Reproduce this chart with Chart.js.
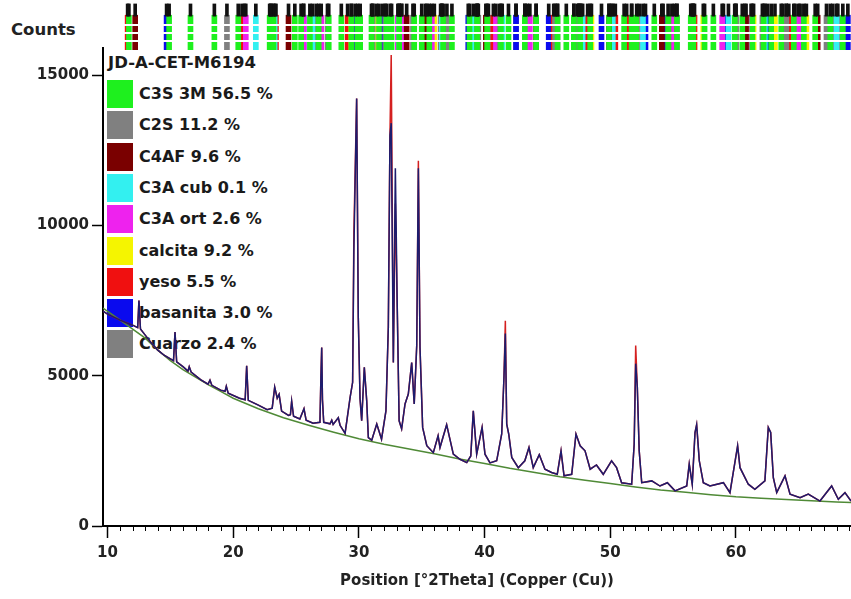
<!DOCTYPE html>
<html>
<head>
<meta charset="utf-8">
<script src="https://cdn.jsdelivr.net/npm/chart.js@4.4.1/dist/chart.umd.min.js"></script>
<style>
  body { margin: 0; background: #fff; }
  #wrap { position: relative; width: 851px; height: 599px; overflow: hidden; font-family: "DejaVu Sans", sans-serif; }
  #wrap canvas { position: absolute; left: 0; top: 0; z-index: 1; }
  #counts { position: absolute; left: 11px; top: 20px; font-size: 16.5px; font-weight: bold; color: #222; }
  #legend { position: absolute; left: 0; top: 0; z-index: 0; color: #1a1a1a; font-weight: bold; }
  #legend .ttl { position: absolute; left: 108px; top: 53px; font-size: 16.5px; white-space: nowrap; }
  #legend .sw { position: absolute; left: 107px; width: 26px; height: 28px; }
  #legend .lb { position: absolute; left: 139px; font-size: 16px; white-space: nowrap; line-height: 28px; }
</style>
</head>
<body>
<div id="wrap">
  <div id="counts">Counts</div>
  <div id="legend"></div>
  <canvas id="stripe" width="851" height="50"></canvas>
  <canvas id="main" width="851" height="599"></canvas>
</div>
<script>
// sample name + phases
const sampleName = 'JD-A-CET-M6194';
const phaseNames = ['C3S 3M', 'C2S', 'C4AF', 'C3A cub', 'C3A ort', 'calcita', 'yeso', 'basanita', 'Cuarzo'];
const phasePercent = [56.5, 11.2, 9.6, 0.1, 2.6, 9.2, 5.5, 3.0, 2.4];
const phaseColors = ['#1ef01e', '#808080', '#7a0000', '#33f0f0', '#ee22ee', '#f5f500', '#f01010', '#0a0aee', '#808080'];

// reference sticks (2Theta) per phase, top strip
const sticksC3S = [11.7, 14.9, 16.6, 18.5, 20.4, 22.9, 23.2, 24.9, 25.4, 26.1, 26.8, 27.6, 28.6, 29.4, 29.9, 30.1, 31.0, 31.6, 32.2, 32.6, 33.2, 34.4, 35.0, 35.6, 36.7, 37.4, 38.8, 39.4, 40.2, 41.3, 41.9, 43.2, 44.1, 45.8, 46.5, 47.1, 47.6, 48.4, 49.9, 51.1, 51.7, 52.1, 53.5, 54.6, 55.3, 56.4, 56.6, 57.5, 58.2, 59.9, 60.5, 61.3, 62.2, 62.8, 63.6, 64.6, 65.4, 66.3, 67.5, 68.5];
const sticksC2S = [19.5, 23.0, 27.5, 31.1, 32.1, 32.5, 34.3, 37.0, 39.4, 41.2, 45.6, 47.5, 51.7, 56.5, 60.0, 62.1, 64.0, 67.2];
const sticksC4AF = [12.2, 24.4, 33.8, 35.3, 40.1, 44.1, 47.4, 49.9, 54.1, 60.8, 63.7, 66.5];
const sticksC3Acub = [21.8, 23.3, 26.3, 33.2, 36.6, 39.1, 41.4, 47.8, 50.2, 52.6, 59.4, 62.3, 68.0];
const sticksC3Aort = [21.0, 25.6, 27.0, 33.1, 33.4, 35.8, 40.9, 43.6, 47.7, 52.3, 55.1, 58.9, 61.2, 65.0];
const sticksCalcita = [23.0, 29.4, 31.4, 36.0, 39.4, 43.2, 47.1, 47.5, 48.5, 56.6, 57.4, 60.7, 61.4, 63.1, 64.7, 65.6];
const sticksYeso = [11.6, 20.7, 23.4, 29.1, 31.1, 33.4, 35.4, 36.6, 40.7, 43.4, 45.5, 48.2, 50.4, 51.3, 56.7, 64.2];
const sticksBasanita = [14.7, 25.6, 29.7, 31.9, 38.7, 42.5, 45.1, 49.3, 52.8, 54.2, 59.0, 62.5, 65.1, 68.9];
const sticksCuarzo = [20.9, 26.6, 36.5, 39.5, 40.3, 42.5, 45.8, 50.1, 54.9, 55.3, 60.0, 64.0, 67.7, 68.1];
const phaseSticks = [sticksC3S, sticksC2S, sticksC4AF, sticksC3Acub, sticksC3Aort, sticksCalcita, sticksYeso, sticksBasanita, sticksCuarzo];

// observed scan (2Theta, counts)
const thetaObs = [9.64, 10.0, 10.5, 11.0, 11.5, 12.0, 12.4, 12.5, 12.62, 13.0, 13.5, 14.0, 14.5, 15.0, 15.25, 15.37, 15.5, 16.0, 16.4, 16.5, 16.65, 17.4, 18.0, 18.15, 18.3, 19.0, 19.35, 19.45, 19.6, 20.5, 20.95, 21.07, 21.2, 22.0, 22.7, 23.1, 23.3, 23.5, 23.65, 23.85, 24.4, 24.55, 24.65, 24.8, 25.3, 25.63, 25.8, 26.35, 26.9, 26.98, 27.04, 27.1, 27.2, 27.7, 27.84, 27.95, 28.36, 28.5, 28.9, 29.3, 29.5, 29.6, 29.82, 29.95, 30.09, 30.22, 30.43, 30.62, 30.75, 31.02, 31.42, 31.8, 32.15, 32.34, 32.47, 32.57, 32.74, 32.9, 33.05, 33.2, 33.4, 33.67, 33.93, 34.2, 34.4, 34.6, 34.73, 34.86, 35.07, 35.4, 35.92, 36.3, 36.45, 36.98, 37.51, 38.04, 38.58, 38.9, 39.1, 39.37, 39.8, 40.03, 40.43, 40.96, 41.36, 41.54, 41.65, 41.76, 41.92, 42.16, 42.68, 43.2, 43.53, 43.87, 44.35, 44.8, 45.33, 45.78, 46.08, 46.32, 46.93, 47.27, 47.6, 47.99, 48.4, 48.9, 49.44, 50.1, 50.5, 50.9, 51.7, 51.9, 52.02, 52.15, 52.3, 52.5, 53.3, 53.95, 54.54, 55.15, 56.08, 56.28, 56.52, 56.74, 56.87, 57.08, 57.4, 57.93, 59.0, 59.52, 60.13, 60.32, 60.98, 61.5, 62.3, 62.57, 62.76, 62.97, 63.24, 63.9, 64.3, 65.1, 65.75, 66.68, 67.61, 68.14, 68.67, 69.15];
const countsObs = [7150, 7050, 6950, 6850, 6760, 6680, 6600, 7500, 6550, 6350, 6080, 5850, 5680, 5560, 5500, 6450, 5460, 5300, 5150, 5300, 5120, 4870, 4720, 4850, 4680, 4520, 4480, 4650, 4420, 4250, 4200, 5330, 4180, 4020, 3870, 3920, 4620, 4250, 4380, 3820, 3680, 3700, 4150, 3650, 3560, 3900, 3520, 3420, 3450, 5000, 5940, 4200, 3450, 3400, 3520, 3380, 3600, 3350, 3080, 4280, 4780, 9170, 14220, 6940, 4230, 3500, 5280, 4170, 2940, 2850, 3390, 2890, 3830, 6610, 13000, 13400, 5440, 11900, 7280, 3500, 3230, 4060, 4390, 5440, 4060, 6000, 11900, 5940, 3280, 2670, 2440, 3000, 2610, 3370, 2390, 2220, 2110, 2330, 3830, 2390, 3280, 2390, 2100, 2170, 3060, 4940, 6400, 3390, 3060, 2280, 1940, 2170, 2610, 1940, 2370, 1890, 1780, 1720, 2500, 1670, 1720, 3060, 2670, 2500, 1890, 2030, 1720, 2170, 1940, 1440, 1390, 2720, 5400, 4610, 2500, 1440, 1500, 1330, 1440, 1170, 1330, 2060, 1390, 3110, 3370, 2170, 1440, 1330, 1440, 1110, 2670, 1940, 1390, 1220, 1500, 3280, 3110, 1610, 1110, 1670, 1060, 940, 1060, 830, 1330, 890, 1110, 830];

// calculated profile: where it parts from the observed one (peak tops)
const calcTops = [[29.6, 9800], [32.57, 15670], [32.9, 10730], [34.73, 12150], [41.65, 6830], [52.02, 6000]];

// background
const thetaBg = [9.64, 11, 12, 13, 14, 15, 16, 17, 18, 19, 20, 22, 24, 26, 28, 30, 32, 34, 36, 38, 40, 42, 44, 46, 48, 50, 52, 54, 56, 58, 60, 62, 64, 66, 68, 69.15];
const countsBg = [7250, 6850, 6550, 6250, 5850, 5500, 5200, 4950, 4700, 4480, 4250, 3900, 3600, 3350, 3120, 2900, 2720, 2560, 2400, 2230, 2080, 1920, 1780, 1640, 1520, 1410, 1300, 1200, 1120, 1040, 970, 920, 880, 840, 800, 780];

const xTicks = [10, 20, 30, 40, 50, 60];
const yTicks = [0, 5000, 10000, 15000];
const xMin = 9.64, xMax = 69.15, yMax = 15900;

// legend (drawn under the plot lines)
let legend = document.getElementById('legend');
let t = document.createElement('div');
t.className = 'ttl';
t.textContent = sampleName;
legend.appendChild(t);
phaseNames.forEach((name, i) => {
  let top = 80 + i * 31.3;
  let sw = document.createElement('div');
  sw.className = 'sw';
  sw.style.top = top + 'px';
  sw.style.background = phaseColors[i];
  legend.appendChild(sw);
  let lb = document.createElement('div');
  lb.className = 'lb';
  lb.style.top = top + 'px';
  lb.textContent = name + ' ' + phasePercent[i].toFixed(1) + ' %';
  legend.appendChild(lb);
});

let obsData = thetaObs.map((x, i) => ({ x: x, y: countsObs[i] }));
let calcData = obsData.map(p => {
  let hit = calcTops.find(c => c[0] === p.x);
  return { x: p.x, y: hit ? hit[1] : p.y };
});
let bgData = thetaBg.map((x, i) => ({ x: x, y: countsBg[i] }));

const axisFont = { family: 'DejaVu Sans', size: 15, weight: 'bold' };

const minorTicks = {
  id: 'minorTicks',
  afterDraw(chart) {
    let sx = chart.scales.x;
    let y0 = chart.chartArea.bottom;
    let ctx = chart.ctx;
    ctx.save();
    ctx.strokeStyle = '#000';
    ctx.lineWidth = 1;
    for (let v = 10; v <= 69; v++) {
      if (v % 10 === 0) continue;
      let px = Math.round(sx.getPixelForValue(v)) + 0.5;
      ctx.beginPath();
      ctx.moveTo(px, y0);
      ctx.lineTo(px, y0 + 5);
      ctx.stroke();
    }
    ctx.restore();
  }
};

new Chart(document.getElementById('main'), {
  type: 'line',
  data: {
    datasets: [
      { label: 'observed', data: obsData, borderColor: '#1c1c6e', borderWidth: 1.5 },
      { label: 'calculated', data: calcData, borderColor: '#d42020', borderWidth: 1.5 },
      { label: 'background', data: bgData, borderColor: '#4f8a36', borderWidth: 1.5 }
    ]
  },
  options: {
    responsive: false,
    animation: false,
    elements: { point: { radius: 0 }, line: { tension: 0 } },
    layout: { padding: { top: 48, left: 0, right: 0, bottom: 0 } },
    plugins: { legend: { display: false }, tooltip: { enabled: false } },
    scales: {
      x: {
        type: 'linear',
        min: xMin,
        max: xMax,
        afterBuildTicks: s => { s.ticks = xTicks.map(v => ({ value: v })); },
        afterFit: s => { s.height = 73; },
        grid: { drawOnChartArea: false, tickLength: 12, tickColor: '#000', tickWidth: 1.5 },
        border: { color: '#000', width: 2 },
        ticks: { font: axisFont, color: '#222', padding: 6, maxRotation: 0, callback: v => String(v) },
        title: { display: true, text: 'Position [°2Theta] (Copper (Cu))', font: axisFont, color: '#222', padding: { top: 0, bottom: 9 } }
      },
      y: {
        min: 0,
        max: yMax,
        afterBuildTicks: s => { s.ticks = yTicks.map(v => ({ value: v })); },
        afterFit: s => { s.width = 103; },
        grid: { drawOnChartArea: false, tickLength: 11, tickColor: '#000', tickWidth: 1.5 },
        border: { color: '#000', width: 2 },
        ticks: { font: axisFont, color: '#222', padding: 3, callback: v => String(v) }
      }
    }
  },
  plugins: [minorTicks]
});

// top strip with reference sticks
let stripeSets = phaseSticks.map((list, i) => ({
  data: list.map(x => ({ x: x, y: [0, 0.74] })),
  backgroundColor: phaseColors[i],
  barThickness: 5,
  grouped: false
}));
stripeSets.unshift({
  data: phaseSticks.flat().map(x => ({ x: x, y: [0.72, 0.98] })),
  backgroundColor: '#111',
  barThickness: 3,
  grouped: false
});

new Chart(document.getElementById('stripe'), {
  type: 'bar',
  data: { datasets: stripeSets },
  options: {
    responsive: false,
    animation: false,
    layout: { padding: { top: 3, left: 103, right: 0, bottom: 0 } },
    plugins: { legend: { display: false }, tooltip: { enabled: false } },
    scales: {
      x: { type: 'linear', min: xMin, max: xMax, offset: false, display: false },
      y: {
        min: 0,
        max: 1,
        afterBuildTicks: s => { s.ticks = [0.19, 0.36, 0.53].map(v => ({ value: v })); },
        afterFit: s => { s.width = 0; },
        grid: { color: '#fff', lineWidth: 2, drawTicks: false, z: 1 },
        border: { display: false },
        ticks: { display: false }
      }
    }
  }
});
</script>
</body>
</html>
